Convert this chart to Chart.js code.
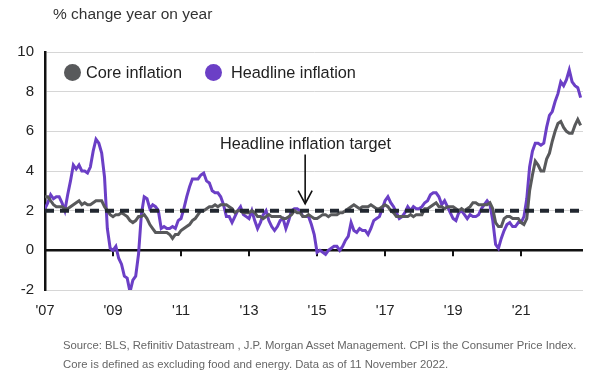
<!DOCTYPE html>
<html><head><meta charset="utf-8">
<script src="https://cdn.jsdelivr.net/npm/chart.js@4.4.1/dist/chart.umd.min.js"></script>
<style>
html,body{margin:0;padding:0;background:#fff;}
#wrap{position:relative;width:600px;height:381px;font-family:"Liberation Sans",Arial,sans-serif;}
canvas{position:absolute;left:0;top:0;}
.t{position:absolute;white-space:nowrap;line-height:1;}
.dot{position:absolute;width:17px;height:17px;border-radius:50%;}
</style></head><body>
<div id="wrap">
<canvas id="c" width="600" height="381"></canvas>
<div class="t" style="left:53px;top:6px;font-size:15.5px;color:#333">% change year on year</div>
<div class="dot" style="left:64px;top:64px;background:#58595b"></div>
<div class="t" style="left:86px;top:64px;font-size:16.3px;color:#222">Core inflation</div>
<div class="dot" style="left:205px;top:64px;background:#6b3fc6"></div>
<div class="t" style="left:231px;top:64px;font-size:16.3px;color:#222">Headline inflation</div>
<div class="t" style="left:220px;top:135px;font-size:16.3px;color:#222">Headline inflation target</div>
<div class="t" style="left:63px;top:340px;font-size:11.3px;color:#666">Source: BLS, Refinitiv Datastream , J.P. Morgan Asset Management. CPI is the Consumer Price Index.</div>
<div class="t" style="left:63px;top:359px;font-size:11.3px;color:#666">Core is defined as excluding food and energy. Data as of 11 November 2022.</div>
</div>
<script>
// Monthly series, Jan 2007 - Oct 2022 (% change year on year)
const startYear = 2007;
const headline = [
 2.1,2.4,2.8,2.6,2.7,2.7,2.4,2.0,2.8,3.5,4.3,4.1,
 4.3,4.0,4.0,3.9,4.2,5.0,5.6,5.4,4.9,3.7,1.1,0.1,
 0.0,0.2,-0.4,-0.7,-1.3,-1.4,-2.1,-1.5,-1.3,-0.2,1.8,2.7,
 2.6,2.1,2.3,2.2,2.0,1.1,1.2,1.1,1.1,1.2,1.1,1.5,
 1.6,2.1,2.7,3.2,3.6,3.6,3.6,3.8,3.9,3.5,3.4,3.0,
 2.9,2.9,2.7,2.3,1.7,1.7,1.4,1.7,2.0,2.2,1.8,1.7,
 1.6,2.0,1.5,1.1,1.4,1.8,2.0,1.5,1.2,1.0,1.2,1.5,
 1.6,1.1,1.5,2.0,2.1,2.1,2.0,1.7,1.7,1.7,1.3,0.8,
 -0.1,0.0,-0.1,-0.2,0.0,0.1,0.2,0.2,0.0,0.2,0.5,0.7,
 1.4,1.0,0.9,1.1,1.0,1.0,0.8,1.1,1.5,1.6,1.7,2.1,
 2.5,2.7,2.4,2.2,1.9,1.6,1.7,1.9,2.2,2.0,2.2,2.1,
 2.1,2.2,2.4,2.5,2.8,2.9,2.9,2.7,2.3,2.5,2.2,1.9,
 1.6,1.5,1.9,2.0,1.8,1.6,1.8,1.7,1.7,1.8,2.1,2.3,
 2.5,2.3,1.5,0.3,0.1,0.6,1.0,1.3,1.4,1.2,1.2,1.4,
 1.4,1.7,2.6,4.2,5.0,5.4,5.4,5.3,5.4,6.2,6.8,7.0,
 7.5,7.9,8.5,8.3,8.6,9.1,8.5,8.3,8.2,7.7
];
const core = [
 2.7,2.7,2.5,2.3,2.2,2.2,2.2,2.1,2.1,2.2,2.3,2.4,
 2.5,2.3,2.4,2.3,2.3,2.4,2.5,2.5,2.5,2.2,2.0,1.8,
 1.7,1.8,1.8,1.9,1.8,1.7,1.5,1.4,1.5,1.7,1.7,1.8,
 1.6,1.3,1.1,0.9,0.9,0.9,0.9,0.9,0.8,0.6,0.8,0.8,
 1.0,1.1,1.2,1.3,1.5,1.6,1.8,2.0,2.0,2.1,2.2,2.2,
 2.3,2.2,2.3,2.3,2.3,2.2,2.1,1.9,2.0,2.0,1.9,1.9,
 1.9,2.0,1.9,1.7,1.7,1.6,1.7,1.8,1.7,1.7,1.7,1.7,
 1.6,1.6,1.7,1.8,2.0,1.9,1.9,1.7,1.7,1.8,1.7,1.6,
 1.6,1.7,1.8,1.8,1.7,1.8,1.8,1.8,1.9,1.9,2.0,2.1,
 2.2,2.3,2.2,2.1,2.2,2.2,2.2,2.3,2.2,2.1,2.1,2.2,
 2.3,2.2,2.0,1.9,1.7,1.7,1.7,1.7,1.7,1.8,1.7,1.8,
 1.8,1.8,2.1,2.1,2.2,2.3,2.4,2.2,2.2,2.1,2.2,2.2,
 2.2,2.1,2.0,2.1,2.0,2.1,2.2,2.4,2.4,2.3,2.3,2.3,
 2.3,2.4,2.1,1.4,1.2,1.2,1.6,1.7,1.7,1.6,1.6,1.6,
 1.4,1.3,1.6,3.0,3.8,4.5,4.3,4.0,4.0,4.6,4.9,5.5,
 6.0,6.4,6.5,6.2,6.0,5.9,5.9,6.3,6.6,6.3
];
const tickYears = [2007,2009,2011,2013,2015,2017,2019,2021];
const tickLabels = ["'07","'09","'11","'13","'15","'17","'19","'21"];
const yTicks = [-2,0,2,4,6,8,10];
const target = 2;
const arrowX = 2014.65, arrowTop = 4.83, arrowBottom = 2.35;

const toPts = arr => arr.map((v,i)=>({x: startYear + i/12, y: v}));

const decor = {
  id:'decor',
  beforeDatasetsDraw(chart){
    const {ctx, chartArea:a, scales:{x,y}} = chart;
    const y0 = y.getPixelForValue(0);
    ctx.save();
    ctx.strokeStyle='#111'; ctx.lineWidth=2.5;
    ctx.beginPath(); ctx.moveTo(a.left, y0); ctx.lineTo(a.right, y0); ctx.stroke();
    ctx.lineWidth=2;
    tickYears.slice(1).forEach(t=>{
      const px = Math.round(x.getPixelForValue(t));
      ctx.beginPath(); ctx.moveTo(px, y0); ctx.lineTo(px, y0+6); ctx.stroke();
    });
    ctx.restore();
  },
  afterDatasetsDraw(chart){
    const {ctx, chartArea:a, scales:{x,y}} = chart;
    const yt = y.getPixelForValue(target);
    ctx.save();
    ctx.strokeStyle='#222831'; ctx.lineWidth=4; ctx.setLineDash([9,6]);
    ctx.beginPath(); ctx.moveTo(a.left, yt); ctx.lineTo(a.right, yt); ctx.stroke();
    ctx.setLineDash([]);
    const ax = x.getPixelForValue(arrowX);
    const t = y.getPixelForValue(arrowTop), b = y.getPixelForValue(arrowBottom);
    ctx.strokeStyle='#111'; ctx.lineWidth=1.6;
    ctx.beginPath(); ctx.moveTo(ax, t); ctx.lineTo(ax, b); ctx.stroke();
    ctx.beginPath(); ctx.moveTo(ax-7, b-13); ctx.lineTo(ax, b); ctx.lineTo(ax+7, b-13); ctx.stroke();
    ctx.restore();
  }
};

new Chart(document.getElementById('c'), {
  type:'line',
  data:{datasets:[
    {label:'Core inflation', data:toPts(core), borderColor:'#58595b', borderWidth:3, pointRadius:0, tension:0, order:0},
    {label:'Headline inflation', data:toPts(headline), borderColor:'#6b3fc6', borderWidth:3, pointRadius:0, tension:0, order:1}
  ]},
  options:{
    responsive:false, animation:false, devicePixelRatio:1,
    layout:{padding:{top:52,right:17,bottom:61,left:0}},
    plugins:{legend:{display:false}, tooltip:{enabled:false}},
    scales:{
      x:{type:'linear', min:2007, max:2022.82,
        afterBuildTicks(s){ s.ticks = tickYears.map(v=>({value:v})); },
        afterFit(s){ s.height = 30; },
        grid:{display:false, drawTicks:false}, border:{display:false},
        ticks:{padding:12, color:'#222', font:{size:14.5, family:'"Liberation Sans", Arial, sans-serif'},
          callback:(v)=>{const i=tickYears.indexOf(v); return i>=0?tickLabels[i]:'';}, maxRotation:0, autoSkip:false}
      },
      y:{min:-2, max:10,
        afterBuildTicks(s){ s.ticks = yTicks.map(v=>({value:v})); },
        afterFit(s){ s.width = 45; },
        grid:{color:'#d6d6d6', lineWidth:1, drawTicks:false},
        border:{display:true, color:'#111', width:2.5},
        ticks:{padding:11, color:'#222', font:{size:15, family:'"Liberation Sans", Arial, sans-serif'}}
      }
    }
  },
  plugins:[decor]
});
</script>
</body></html>
